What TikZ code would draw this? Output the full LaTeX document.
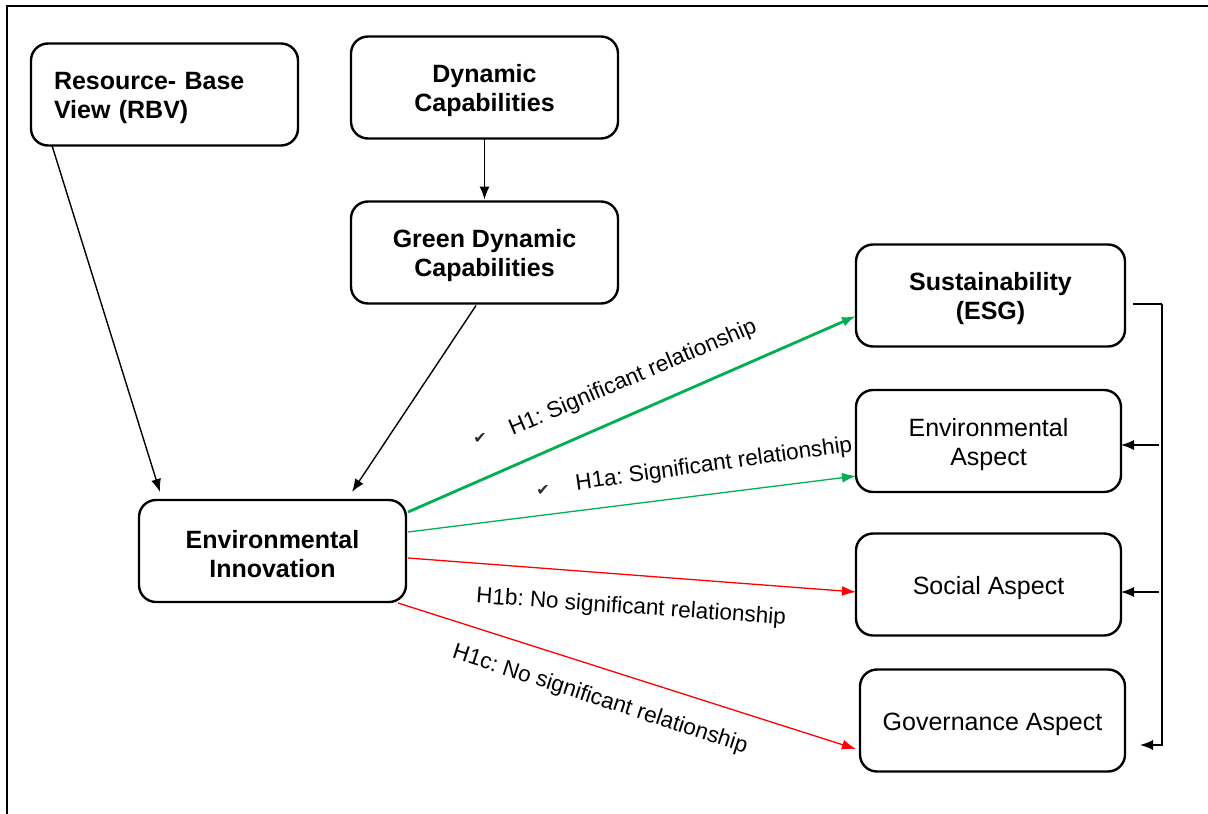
\documentclass[tikz,border=0pt]{standalone}
\usepackage{fontspec}
\setmainfont{Liberation Sans}
\newfontfamily\checkfont{DejaVu Sans}
\usetikzlibrary{arrows.meta,calc}
\definecolor{sigGreen}{RGB}{0,176,80}
\definecolor{noRed}{RGB}{255,0,0}
\definecolor{checkGray}{RGB}{30,50,40}
\newcommand{\capStrut}{\rule{0pt}{25pt}}
\frenchspacing
\begin{document}
\begin{tikzpicture}
[x=1pt,y=-1pt,
  boxDecorate/.style={shape=rectangle,rounded corners=17pt,draw,line width=2.4pt,
    outer sep=0pt,minimum height=102pt,align=center,
    font=\fontsize{25}{29}\selectfont},
  boldDecorate/.style={boxDecorate,font=\fontsize{25}{29}\selectfont\bfseries},
  lineDecorate/.style={-{Latex[length=13pt,width=10pt]},line width=1.4pt},
  sigDecorate/.style={-{Latex[length=14pt,width=10pt]},sigGreen},
  noDecorate/.style={-{Latex[length=14pt,width=10pt]},noRed,line width=1.3pt},
  labelDecorate/.style={inner sep=0pt,font=\fontsize{22.5}{27}\selectfont},
  checkDecorate/.style={inner sep=0pt,text=checkGray,font=\checkfont\fontsize{16}{16}\selectfont}]
\useasboundingbox (0,0) rectangle (1208,814);
%% frame
\draw[line width=1.5pt] (7,814) -- (7,6) -- (1208,6);
%% boxes
\node (rbv) at (164.5,94.5) [boldDecorate,minimum width=267pt,text width=221pt,
  inner xsep=23pt,align=left] {\capStrut Resource- Base\\View (RBV)};
\foreach \nodename/\x/\y/\w/\txt in {
  dyn/484.5/87.5/267/{\capStrut Dynamic\\Capabilities},
  gdc/484.5/252.5/267/{\capStrut Green Dynamic\\Capabilities},
  sus/990.5/295.5/269/{\capStrut Sustainability\\(ESG)},
  ei/272.5/551/267/{\capStrut Environmental\\Innovation}}
{
  \node (\nodename) at (\x,\y) [boldDecorate,minimum width=\w pt] {\txt};
}
\foreach \nodename/\x/\y/\w/\txt in {
  envasp/988.5/441/265/{\capStrut Environmental\\Aspect},
  soc/988.5/584.5/265/{\capStrut Social Aspect},
  gov/992.5/720.5/265/{\capStrut Governance Aspect}}
{
  \node (\nodename) at (\x,\y) [boxDecorate,minimum width=\w pt] {\txt};
}
%% theory arrows
\draw[lineDecorate] ([xshift=-112.5pt]rbv.south) -- ([xshift=-112.5pt,yshift=8pt]ei.north);
\draw[lineDecorate] (dyn.south) -- ([yshift=2pt]gdc.north);
\draw[lineDecorate] ([xshift=-8.5pt,yshift=-2pt]gdc.south) -- ([xshift=79.5pt,yshift=8pt]ei.north);
%% hypotheses
\draw[sigDecorate,line width=2.8pt] ([xshift=2pt,yshift=39pt]ei.east) -- ([yshift=-20.5pt]sus.west);
\draw[sigDecorate,line width=1.3pt] ([xshift=2pt,yshift=19pt]ei.east) -- ([yshift=-35pt]envasp.west);
\draw[noDecorate] ([xshift=2pt,yshift=-7pt]ei.east) -- ([yshift=-7.5pt]soc.west);
\draw[noDecorate] ([xshift=-8pt,yshift=-1pt]ei.south east) -- ([xshift=-4pt,yshift=-28.5pt]gov.west);
\node (lblH1) at (633,378) [labelDecorate,rotate=23] {H1: Significant relationship};
\node (chkH1) at (480,438) [checkDecorate] {✔};
\node (lblH1a) at (714,465) [labelDecorate,rotate=8] {H1a: Significant relationship};
\node (chkH1a) at (543,490) [checkDecorate] {✔};
\node (lblH1b) at (631,608) [labelDecorate,rotate=-4] {H1b: No significant relationship};
\node (lblH1c) at (600,700) [labelDecorate,rotate=-18] {H1c: No significant relationship};
%% ESG bracket
\coordinate (bus) at ([xshift=37pt,yshift=-8.5pt]sus.east);
\draw[line width=1.2pt] ([xshift=8pt,yshift=-8.5pt]sus.east) -- (bus);
\draw[lineDecorate,line width=1.2pt] (bus) |- ([xshift=15pt,yshift=-24.5pt]gov.east);
\draw[lineDecorate,line width=1.2pt] ($(bus |- envasp.east)+(-3,4)$) -- ([yshift=-4pt]envasp.east);
\draw[lineDecorate,line width=1.2pt] ($(bus |- soc.east)+(-3,7.5)$) -- ([yshift=-7.5pt]soc.east);
\end{tikzpicture}
\end{document}
